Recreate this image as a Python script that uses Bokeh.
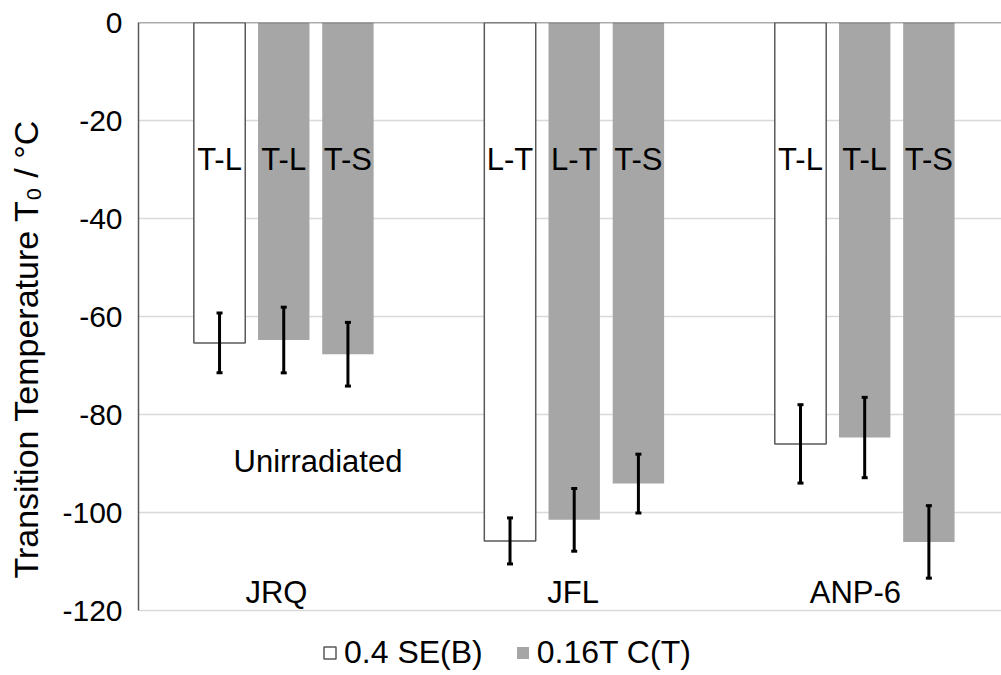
from bokeh.core.properties import value
from bokeh.embed import file_html
from bokeh.models import (ColumnDataSource, FixedTicker, Legend, LegendItem,
                          PrintfTickFormatter, Range1d, Span, TeeHead, Whisker)
from bokeh.plotting import figure
from bokeh.resources import INLINE

# --- data -------------------------------------------------------------
materials = ["JRQ", "JFL", "ANP-6"]

# 0.4 SE(B) specimens
se_t0 = [-65.4, -105.8, -86.0]
se_err = [6.1, 4.7, 8.0]
se_orient = ["T-L", "L-T", "T-L"]

# 0.16T C(T) specimens, first orientation
ct1_t0 = [-64.8, -101.5, -84.7]
ct1_err = [6.7, 6.4, 8.2]
ct1_orient = ["T-L", "L-T", "T-L"]

# 0.16T C(T) specimens, T-S orientation
ct2_t0 = [-67.7, -94.1, -106.0]
ct2_err = [6.5, 6.0, 7.4]
ct2_orient = ["T-S", "T-S", "T-S"]

y_ticks = [0, -20, -40, -60, -80, -100, -120]
condition_label = "Unirradiated"

# --- styling ----------------------------------------------------------
FONT = "Liberation Sans"
WHITE = "#FFFFFF"
GREY = "#A6A6A6"
EDGE = "#595959"
GRID = "#D9D9D9"
BAR_W = 0.177
STEP = 0.221
LABEL_LEVEL = -28
NAME_LEVEL = -116.3
name_shift = [-0.025, -0.004, -0.032]

Y_TOP, Y_BOTTOM = 0, -120
# the frame runs on below the lowest tick so the legend row sits inside it
Y_FLOOR = Y_BOTTOM - 65 / 4.9

p = figure(width=1001, height=675, output_backend="svg", toolbar_location=None,
           x_axis_type=None, x_range=Range1d(-0.5, 2.471),
           y_range=Range1d(Y_FLOOR, Y_TOP),
           min_border_left=138, min_border_right=0, min_border_top=22,
           min_border_bottom=0)
p.outline_line_color = None
p.background_fill_color = "white"

idx = list(range(len(materials)))


def series(offset, t0, err, orient):
    xs = [i + offset for i in idx]
    return ColumnDataSource(dict(
        x=xs, t0=t0, orient=orient,
        upper=[v + e for v, e in zip(t0, err)],
        lower=[v - e for v, e in zip(t0, err)],
    ))


src_se = series(-STEP, se_t0, se_err, se_orient)
src_ct1 = series(0.0, ct1_t0, ct1_err, ct1_orient)
src_ct2 = series(STEP, ct2_t0, ct2_err, ct2_orient)

r_se = p.vbar(x="x", top=0, bottom="t0", width=BAR_W, source=src_se,
              fill_color=WHITE, line_color=EDGE, line_width=1.5)
r_ct1 = p.vbar(x="x", top=0, bottom="t0", width=BAR_W, source=src_ct1,
               fill_color=GREY, line_color=None)
r_ct2 = p.vbar(x="x", top=0, bottom="t0", width=BAR_W, source=src_ct2,
               fill_color=GREY, line_color=None)

# error bars
for src in (src_se, src_ct1, src_ct2):
    w = Whisker(source=src, base="x", upper="upper", lower="lower",
                line_color="black", line_width=3, level="overlay",
                upper_head=TeeHead(size=6, line_width=3, line_color="black"),
                lower_head=TeeHead(size=6, line_width=3, line_color="black"))
    p.add_layout(w)

# orientation labels inside the bars
for src in (src_se, src_ct1, src_ct2):
    p.text(x="x", y=LABEL_LEVEL, text="orient", source=src,
           text_font=value(FONT), text_font_size="31px", text_color="black",
           text_align="center", text_baseline="middle")

# material names and condition
p.text(x=[i + s for i, s in zip(idx, name_shift)], y=[NAME_LEVEL] * len(idx),
       text=materials, text_font=value(FONT), text_font_size="31px",
       text_color="black", text_align="center", text_baseline="middle")
p.text(x=[0.118], y=[-89.6], text=[condition_label], text_font=value(FONT),
       text_font_size="31px", text_color="black", text_align="center",
       text_baseline="middle")

# axis at zero
p.add_layout(Span(location=0, dimension="width", line_color=EDGE, line_width=1.5))

# y axis
yax = p.yaxis[0]
yax.bounds = (Y_BOTTOM, Y_TOP)
yax.ticker = FixedTicker(ticks=y_ticks)
yax.formatter = PrintfTickFormatter(format="%d")
yax.major_tick_line_color = None
yax.minor_tick_line_color = None
yax.major_tick_out = 0
yax.major_tick_in = 0
yax.axis_line_color = EDGE
yax.axis_line_width = 1.5
yax.major_label_standoff = 16
yax.major_label_text_font = FONT
yax.major_label_text_font_size = "30px"
yax.major_label_text_color = "black"
yax.axis_label = "Transition Temperature T\u2080 / \u00b0C"
yax.axis_label_text_font = FONT
yax.axis_label_text_font_size = "34px"
yax.axis_label_text_font_style = "normal"
yax.axis_label_text_color = "black"
yax.axis_label_standoff = 14

p.ygrid.ticker = FixedTicker(ticks=y_ticks)
p.ygrid.bounds = (Y_BOTTOM, Y_TOP)
p.ygrid.grid_line_color = GRID
p.ygrid.grid_line_width = 1.5

legend = Legend(items=[LegendItem(label="0.4 SE(B)", renderers=[r_se]),
                       LegendItem(label="0.16T C(T)", renderers=[r_ct1])],
                orientation="horizontal", location=(184, 4),
                glyph_width=15, glyph_height=15, label_standoff=7, spacing=32,
                padding=0, margin=0, border_line_color=None,
                background_fill_alpha=0, label_text_font=FONT,
                label_text_font_size="32px", label_text_color="black")
p.add_layout(legend)

open("out.html", "w").write(file_html(p, INLINE))
